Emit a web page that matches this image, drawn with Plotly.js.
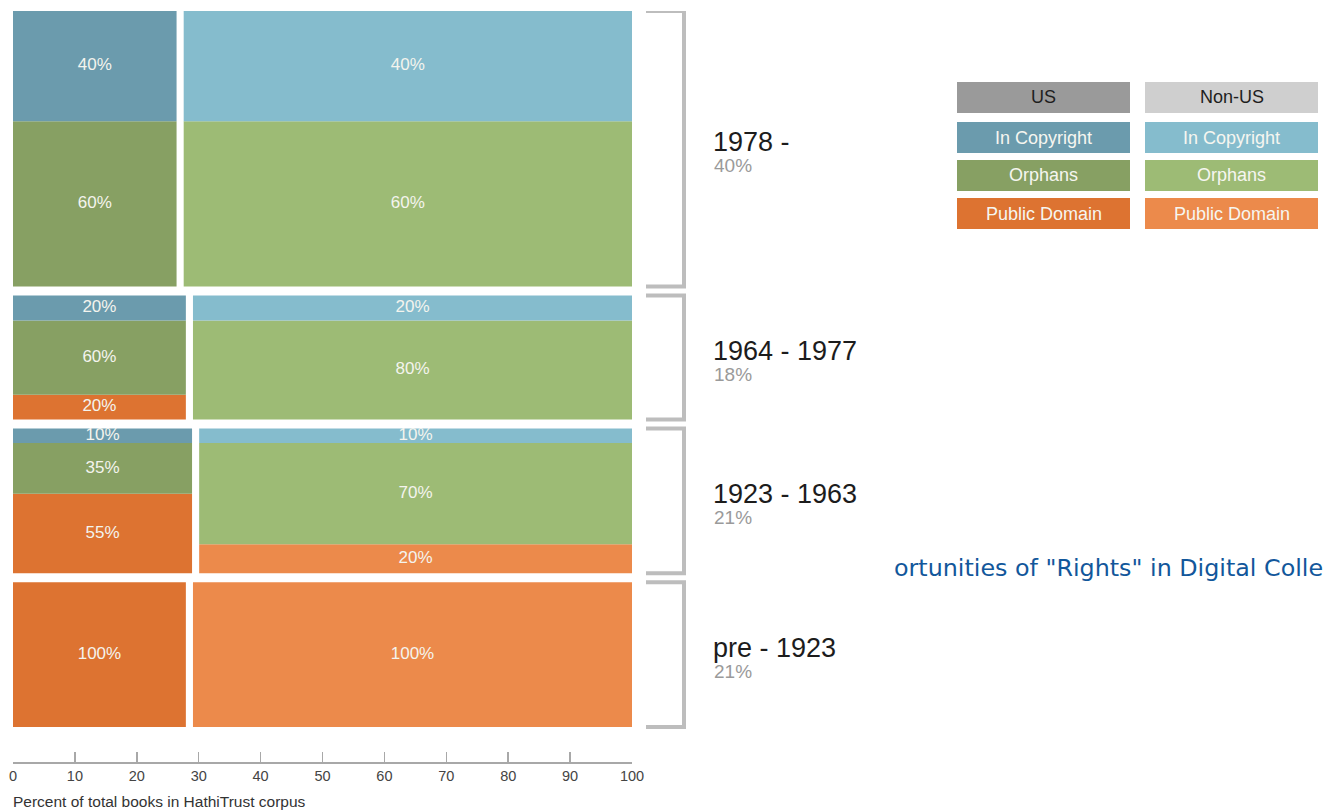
<!DOCTYPE html>
<html>
<head>
<meta charset="utf-8">
<script src="https://cdn.plot.ly/plotly-3.0.1.min.js"></script>
<style>html,body{margin:0;padding:0;background:#fff;overflow:hidden}#chart{width:1324px;height:810px}</style>
</head>
<body>
<div id="chart"></div>
<script>
// ---- DATA (rows listed bottom to top) ----
const periods = ['pre - 1923', '1923 - 1963', '1964 - 1977', '1978 -'];
const periodShare = [21, 21, 18, 40];          // % of total books per period
const usShare = [28.5, 29.5, 28.5, 27];         // % of period's books that are US
const categories = ['In Copyright', 'Orphans', 'Public Domain'];
const origins = ['US', 'Non-US'];
const usCopyright = [0, 10, 20, 40];
const usOrphans = [0, 35, 60, 60];
const usPublic = [100, 55, 20, 0];
const nonUsCopyright = [0, 10, 20, 40];
const nonUsOrphans = [0, 70, 80, 60];
const nonUsPublic = [100, 20, 0, 0];
const xTicks = [0, 10, 20, 30, 40, 50, 60, 70, 80, 90, 100];

// ---- STYLE ----
const colors = {
  'US': {'In Copyright': '#6b9bad', 'Orphans': '#87a063', 'Public Domain': '#dd7331', header: '#9a9a9a'},
  'Non-US': {'In Copyright': '#85bccd', 'Orphans': '#9dbb75', 'Public Domain': '#ec8a4b', header: '#cfcfcf'}
};
const FONT = 'Liberation Sans, Arial, Helvetica, sans-serif';
const rowGap = 1.31;   // vertical gap between rows (y units)
const colGap = 1.15;   // horizontal gap between US and Non-US (x units)

// row bases
const rowBase = [];
let acc = 0;
periodShare.forEach((s, i) => { rowBase.push(acc); acc += s + rowGap; });
const yTop = rowBase[rowBase.length - 1] + periodShare[periodShare.length - 1];

const segData = {
  'US': {'Public Domain': usPublic, 'Orphans': usOrphans, 'In Copyright': usCopyright},
  'Non-US': {'Public Domain': nonUsPublic, 'Orphans': nonUsOrphans, 'In Copyright': nonUsCopyright}
};
const stackOrder = ['Public Domain', 'Orphans', 'In Copyright'];  // bottom to top

const traces = [];
const txtX = [], txtY = [], txtS = [];
origins.forEach(origin => {
  const cum = periods.map(() => 0);
  stackOrder.forEach(cat => {
    const vals = segData[origin][cat];
    const xs = [], ws = [], bs = [], ys = [];
    periods.forEach((p, i) => {
      const x0 = origin === 'US' ? 0 : usShare[i] + colGap / 2;
      const x1 = origin === 'US' ? usShare[i] - colGap / 2 : 100;
      const h = periodShare[i] * vals[i] / 100;
      const b = rowBase[i] + periodShare[i] * cum[i] / 100;
      cum[i] += vals[i];
      if (vals[i] <= 0) return;
      xs.push((x0 + x1) / 2); ws.push(x1 - x0); bs.push(b); ys.push(h);
      txtX.push((x0 + x1) / 2); txtY.push(b + h / 2); txtS.push(vals[i] + '%');
    });
    traces.push({
      type: 'bar', orientation: 'v', name: origin + ' ' + cat,
      x: xs, y: ys, base: bs, width: ws,
      marker: {color: colors[origin][cat], line: {width: 0}},
      hoverinfo: 'skip', showlegend: false
    });
  });
});
traces.push({
  type: 'scatter', mode: 'text', x: txtX, y: txtY, text: txtS,
  textposition: 'middle center',
  textfont: {family: FONT, size: 17, color: '#f4f4ee'},
  hoverinfo: 'skip', showlegend: false, cliponaxis: false
});

// ---- brackets and period labels ----
const shapes = [];
const annotations = [];
const L = 13, W = 619, T = 11, H = 751;
const px2x = px => (px - L) / W;
const py2y = py => (T + H - py) / H;

periods.forEach((p, i) => {
  const y0 = rowBase[i], y1 = rowBase[i] + periodShare[i];
  const xa = px2x(646), xb = px2x(684);
  shapes.push({
    type: 'path', xref: 'paper', yref: 'y',
    path: `M ${xa},${y1} L ${xb},${y1} L ${xb},${y0} L ${xa},${y0}`,
    line: {color: '#bdbdbd', width: 4}
  });
  const yc = (y0 + y1) / 2;
  annotations.push({
    xref: 'paper', yref: 'y', x: px2x(711), y: yc, xanchor: 'left', yanchor: 'middle',
    yshift: 7, text: p, showarrow: false,
    font: {family: FONT, size: 27, color: '#1c1c1c'}
  });
  annotations.push({
    xref: 'paper', yref: 'y', x: px2x(712), y: yc, xanchor: 'left', yanchor: 'middle',
    yshift: -17, text: periodShare[i] + '%', showarrow: false,
    font: {family: FONT, size: 19, color: '#9a9a9a'}
  });
});

// ---- legend grid ----
const colX = {'US': [957, 1130], 'Non-US': [1145, 1318]};
const rowY = [[82, 113], [122, 153], [160, 191], [198, 229]];
origins.forEach(origin => {
  const [xa, xb] = colX[origin];
  const items = [{label: origin, fill: colors[origin].header, fc: '#1e1e1e'}]
    .concat(categories.map(c => ({label: c, fill: colors[origin][c], fc: '#f6f6f0'})));
  items.forEach((it, r) => {
    const [ya, yb] = rowY[r];
    shapes.push({
      type: 'rect', xref: 'paper', yref: 'paper',
      x0: px2x(xa), x1: px2x(xb), y0: py2y(yb), y1: py2y(ya),
      fillcolor: it.fill, line: {width: 0}
    });
    annotations.push({
      xref: 'paper', yref: 'paper', x: px2x((xa + xb) / 2), y: py2y((ya + yb) / 2),
      xanchor: 'center', yanchor: 'middle', text: it.label, showarrow: false,
      font: {family: FONT, size: 18, color: it.fc}
    });
  });
});

// axis title
annotations.push({
  xref: 'paper', yref: 'paper', x: 0, y: py2y(801), xanchor: 'left', yanchor: 'middle',
  xshift: -2, text: 'Percent of total books in HathiTrust corpus', showarrow: false,
  font: {family: FONT, size: 15.5, color: '#333'}
});
// stray slide text
annotations.push({
  xref: 'paper', yref: 'paper', x: px2x(892), y: py2y(568), xanchor: 'left', yanchor: 'middle',
  text: 'ortunities of "Rights" in Digital Colle', showarrow: false,
  font: {family: 'DejaVu Sans, Open Sans, sans-serif', size: 23.8, color: '#12579b'}
});

const pxPerUnitY = 688.5 / 100;
const yBottom = -35 / pxPerUnitY;

const layout = {
  width: 1324, height: 810,
  margin: {l: L, r: 1324 - L - W, t: T, b: 810 - T - H, pad: 0},
  paper_bgcolor: '#ffffff', plot_bgcolor: '#ffffff',
  barmode: 'overlay', showlegend: false,
  xaxis: {
    range: [0, 100], tickvals: xTicks, ticktext: xTicks.map(String),
    showgrid: false, zeroline: false, showline: true, linecolor: '#a8a8a8', linewidth: 1.5,
    ticks: 'inside', ticklen: 10, tickwidth: 1.5, tickcolor: '#a8a8a8',
    tickfont: {family: FONT, size: 14.5, color: '#444'}, fixedrange: true
  },
  yaxis: {range: [yBottom, yTop], visible: false, showgrid: false, zeroline: false, fixedrange: true},
  shapes: shapes, annotations: annotations
};

Plotly.newPlot('chart', traces, layout, {staticPlot: true, displayModeBar: false});
</script>
</body>
</html>
